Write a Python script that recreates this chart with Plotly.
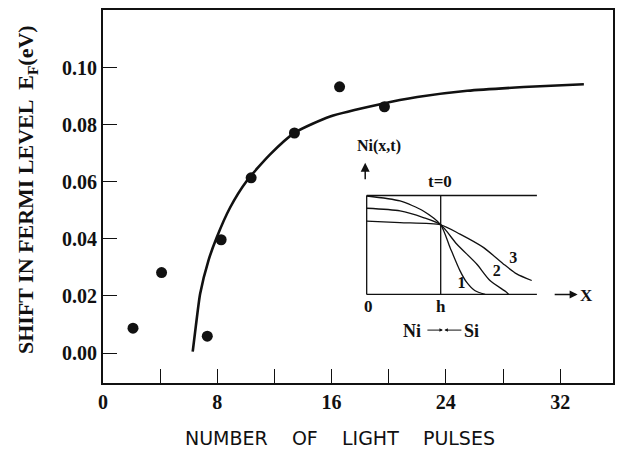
import plotly.graph_objects as go

# ---- main data ----
pulses = [2.1, 4.1, 7.3, 8.27, 10.37, 13.4, 16.56, 19.7]
shift_ef = [0.0087, 0.0282, 0.0059, 0.0397, 0.0614, 0.0771, 0.0933, 0.0863]

fit_x = [6.28, 6.5, 6.8, 7.38, 7.96, 8.9, 10.06, 11.7, 13.45, 15.9, 19.4, 22.0, 25.5, 29.45, 33.66]
fit_y = [0.0005, 0.0095, 0.0208, 0.0324, 0.0405, 0.0510, 0.0603, 0.0696, 0.0773, 0.0829, 0.0872,
         0.0897, 0.0919, 0.0932, 0.0942]

x_tickvals = [0, 8, 16, 24, 32]
y_tickvals = [0.00, 0.02, 0.04, 0.06, 0.08, 0.10]
y_ticktext = ["0.00", "0.02", "0.04", "0.06", "0.08", "0.10"]

# ---- inset data (x in units of h, y normalised) ----
inset_h = 1.0
inset_xmax = 2.3
curve1_x = [0.0, 0.45, 0.765, 1.0, 1.126, 1.26, 1.35, 1.46, 1.6]
curve1_y = [0.995, 0.945, 0.844, 0.704, 0.475, 0.241, 0.124, 0.04, 0.0]
curve2_x = [0.0, 0.45, 0.765, 1.0, 1.216, 1.486, 1.666, 1.89, 1.92]
curve2_y = [0.871, 0.844, 0.777, 0.704, 0.51, 0.308, 0.141, 0.023, 0.0]
curve3_x = [0.0, 0.45, 1.0, 1.261, 1.576, 1.846, 2.027, 2.23]
curve3_y = [0.741, 0.726, 0.704, 0.61, 0.476, 0.309, 0.208, 0.141]
curve_labels = ["<b>1</b>", "<b>2</b>", "<b>3</b>"]
curve_label_x = [1.28, 1.757, 1.98]
curve_label_y = [0.107, 0.224, 0.359]

SERIF = "Liberation Serif"
BLACK = "#111111"

fig = go.Figure()

fig.add_trace(go.Scatter(x=fit_x, y=fit_y, mode="lines",
                         line=dict(color=BLACK, width=2.6, shape="spline", smoothing=0.6),
                         showlegend=False, hoverinfo="skip"))
fig.add_trace(go.Scatter(x=pulses, y=shift_ef, mode="markers",
                         marker=dict(color=BLACK, size=11), showlegend=False))

# inset frame lines
frame_lines = [
    ([0, 0], [0, 1]),
    ([0, inset_xmax], [0, 0]),
    ([0, inset_xmax], [1, 1]),
    ([inset_h, inset_h], [0, 1]),
]
for fx, fy in frame_lines:
    fig.add_trace(go.Scatter(x=fx, y=fy, mode="lines", xaxis="x2", yaxis="y2",
                             line=dict(color=BLACK, width=1.3), showlegend=False, hoverinfo="skip"))
for cx, cy in [(curve1_x, curve1_y), (curve2_x, curve2_y), (curve3_x, curve3_y)]:
    fig.add_trace(go.Scatter(x=cx, y=cy, mode="lines", xaxis="x2", yaxis="y2",
                             line=dict(color=BLACK, width=1.3, shape="spline", smoothing=0.7),
                             showlegend=False, hoverinfo="skip"))
fig.add_trace(go.Scatter(x=curve_label_x, y=curve_label_y, mode="text", text=curve_labels,
                         xaxis="x2", yaxis="y2",
                         textfont=dict(family=SERIF, size=16, color=BLACK),
                         showlegend=False, hoverinfo="skip"))

axis_common = dict(showline=True, linecolor=BLACK, linewidth=2, mirror=True,
                   ticks="inside", ticklen=14, tickwidth=1.3, tickcolor=BLACK,
                   showgrid=False, zeroline=False,
                   tickfont=dict(family=SERIF, size=20, color=BLACK))

hidden = dict(showline=False, showgrid=False, zeroline=False, ticks="",
              showticklabels=False, fixedrange=True)

fig.update_layout(
    width=634, height=454,
    margin=dict(l=103, r=21, t=8, b=71),
    paper_bgcolor="white", plot_bgcolor="rgba(0,0,0,0)",
    xaxis=dict(range=[0, 35.7], tickvals=x_tickvals,
               ticktext=[f"<b>{v}</b>" for v in x_tickvals],
               minor=dict(dtick=4, tick0=0, ticks="inside", ticklen=14, tickwidth=1.3, tickcolor=BLACK),
               **axis_common),
    yaxis=dict(range=[-0.0105, 0.1202], tickvals=y_tickvals,
               ticktext=[f"<b>{t}</b>" for t in y_ticktext], **axis_common),
    xaxis2=dict(domain=[0.4735, 0.9814], range=[-0.3, 3.2], anchor="y2", **hidden),
    yaxis2=dict(domain=[0.1047, 0.6884], range=[-0.5, 1.7], anchor="x2", **hidden),
)

ann = []
# axis titles
ann.append(dict(text="<b>SHIFT IN FERMI LEVEL  E<sub>F</sub>(eV)</b>", textangle=-90,
                xref="paper", yref="paper", x=(27 - 103) / 510, y=(383 - 189) / 375,
                showarrow=False, font=dict(family=SERIF, size=22, color=BLACK),
                xanchor="center", yanchor="middle"))
ann.append(dict(text="NUMBER    OF    LIGHT    PULSES",
                xref="paper", yref="paper", x=(340 - 103) / 510, y=(383 - 438) / 375,
                showarrow=False, font=dict(family="DejaVu Sans", size=19, color=BLACK),
                xanchor="center", yanchor="middle"))
# inset texts
def itxt(t, x, y, size=14):
    return dict(text=f"<b>{t}</b>", xref="x2", yref="y2", x=x, y=y, showarrow=False,
                font=dict(family=SERIF, size=size, color=BLACK), xanchor="center", yanchor="middle")

ann.append(itxt("Ni(x,t)", 0.17, 1.50, 16))
ann.append(itxt("t=0", 0.99, 1.14, 17))
ann.append(itxt("0", 0.02, -0.12, 17))
ann.append(itxt("h", 1.0, -0.12, 17))
ann.append(itxt("Ni", 0.607, -0.37, 18))
ann.append(itxt("Si", 1.418, -0.37, 18))
ann.append(itxt("X", 2.97, -0.01, 17))
# arrows
ann.append(dict(xref="x2", yref="y2", axref="x2", ayref="y2", x=-0.02, y=1.33, ax=-0.02, ay=1.15,
                showarrow=True, arrowhead=2, arrowsize=1.2, arrowwidth=1.5, arrowcolor=BLACK, text=""))
ann.append(dict(xref="x2", yref="y2", axref="x2", ayref="y2", x=2.85, y=0.0, ax=2.52, ay=0.0,
                showarrow=True, arrowhead=2, arrowsize=1.0, arrowwidth=1.6, arrowcolor=BLACK, text=""))
ann.append(dict(xref="x2", yref="y2", axref="x2", ayref="y2", x=1.03, y=-0.36, ax=0.8, ay=-0.36,
                showarrow=True, arrowhead=2, arrowsize=0.7, arrowwidth=1.0, arrowcolor=BLACK, text=""))
ann.append(dict(xref="x2", yref="y2", axref="x2", ayref="y2", x=1.05, y=-0.36, ax=1.3, ay=-0.36,
                showarrow=True, arrowhead=2, arrowsize=0.7, arrowwidth=1.0, arrowcolor=BLACK, text=""))
fig.update_layout(annotations=ann)

fig.write_html("out.html")
